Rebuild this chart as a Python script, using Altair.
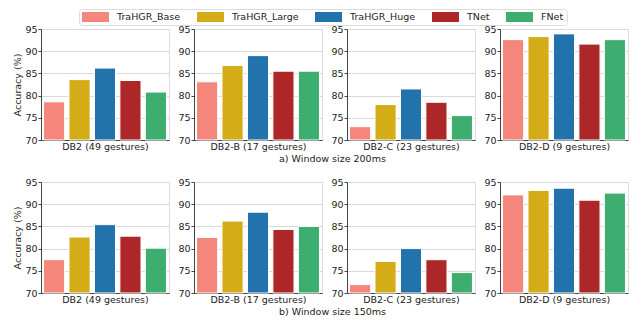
import altair as alt
import pandas as pd

models = ["TraHGR_Base", "TraHGR_Large", "TraHGR_Huge", "TNet", "FNet"]
colors = ["#F5867B", "#D4AC18", "#2272AC", "#AD2729", "#3DAE6F"]
datasets = ["DB2 (49 gestures)", "DB2-B (17 gestures)", "DB2-C (23 gestures)", "DB2-D (9 gestures)"]

# accuracy per dataset, in model order (window 200 ms)
acc_200_db2 = [78.6, 83.6, 86.2, 83.4, 80.8]
acc_200_db2b = [83.1, 86.8, 89.0, 85.5, 85.5]
acc_200_db2c = [73.0, 78.0, 81.5, 78.5, 75.5]
acc_200_db2d = [92.6, 93.3, 93.9, 91.6, 92.6]
# window 150 ms
acc_150_db2 = [77.5, 82.6, 85.4, 82.8, 80.1]
acc_150_db2b = [82.5, 86.2, 88.2, 84.3, 85.0]
acc_150_db2c = [71.9, 77.1, 80.0, 77.5, 74.6]
acc_150_db2d = [92.1, 93.1, 93.6, 90.9, 92.5]

y_ticks = [70, 75, 80, 85, 90, 95]
captions = ["a) Window size 200ms", "b) Window size 150ms"]

rows_data = [
    [acc_200_db2, acc_200_db2b, acc_200_db2c, acc_200_db2d],
    [acc_150_db2, acc_150_db2b, acc_150_db2c, acc_150_db2d],
]

FONT = "DejaVu Sans"
FS = 9.5
W, H = 128, 111


def panel(ds, vals, first):
    df = pd.DataFrame({"model": models, "acc": vals})
    return (
        alt.Chart(df)
        .mark_bar(stroke="white", strokeWidth=1)
        .encode(
            x=alt.X(
                "model:N",
                sort=models,
                scale=alt.Scale(paddingInner=0.17, paddingOuter=0.1),
                axis=alt.Axis(
                    labels=False, ticks=False, title=ds, titleFontSize=FS,
                    titleFontWeight="normal", titleFont=FONT, titleColor="#222",
                    titlePadding=1, domainColor="#444", grid=False,
                ),
            ),
            y=alt.Y(
                "acc:Q",
                scale=alt.Scale(domain=[70, 95], zero=False, nice=False),
                axis=alt.Axis(
                    values=y_ticks, title="Accuracy (%)" if first else None,
                    titleFontSize=FS, titleFontWeight="normal", titleFont=FONT,
                    titleColor="#222", titlePadding=2,
                    labelFontSize=FS, labelFont=FONT, labelColor="#222",
                    tickSize=3, tickColor="#444", domainColor="#444",
                    labelPadding=1, gridColor="#d9d9d9", grid=True,
                ),
            ),
            y2=alt.datum(70),
            color=alt.Color(
                "model:N",
                scale=alt.Scale(domain=models, range=colors),
                legend=alt.Legend(
                    title=None, orient="none", legendX=38, legendY=-20,
                    direction="horizontal", columns=5,
                    symbolType="M-1,-1H4.4V1H-1Z", symbolSize=100,
                    symbolStrokeWidth=0, symbolOpacity=1,
                    labelFontSize=FS, labelFont=FONT, labelColor="#222",
                    labelOffset=25, columnPadding=16,
                    strokeColor="#dddddd", padding=3, cornerRadius=3,
                    fillColor="white",
                ),
            ),
        )
        .properties(width=W, height=H)
    )


rows = []
for r, vals_row in enumerate(rows_data):
    panels = [panel(ds, vals, i == 0) for i, (ds, vals) in enumerate(zip(datasets, vals_row))]
    row = alt.hconcat(
        *panels,
        spacing=25,
        bounds="flush",
        title=alt.TitleParams(
            captions[r], orient="bottom", anchor="middle", fontSize=FS,
            fontWeight="normal", font=FONT, color="#222", offset=3, dx=12,
        ),
    )
    rows.append(row)

chart = (
    alt.vconcat(*rows, spacing=12)
    .properties(padding={"left": 4, "top": 0, "right": 0, "bottom": 0})
    .configure_view(stroke="#e8e8e8", strokeWidth=1)
    .configure(background="white")
)

chart.save("out.html", embed_options={"renderer": "svg", "actions": False})
